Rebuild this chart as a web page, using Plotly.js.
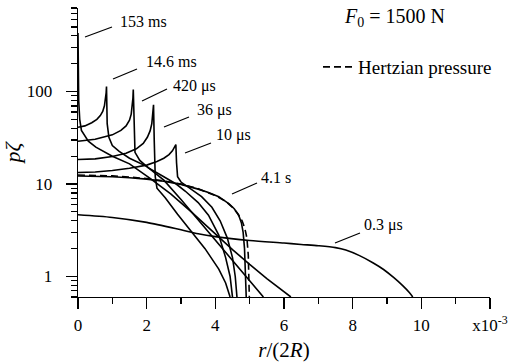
<!DOCTYPE html>
<html><head><meta charset="utf-8">
<script src="https://cdn.plot.ly/plotly-3.0.1.min.js"></script>
<style>html,body{margin:0;padding:0;background:#fff}#chart{width:511px;height:363px}</style>
</head><body><div id="chart"></div>
<script>
// r/(2R) in units of 1e-3, p_zeta dimensionless
const r_03us = [0, 1, 2, 3, 3.5, 4, 5, 6, 6.5, 7, 7.5, 7.8, 8.2, 8.6, 8.9, 9.2, 9.45, 9.65, 9.75];
const p_03us = [4.65, 4.35, 3.85, 3.2, 2.9, 2.7, 2.45, 2.3, 2.22, 2.15, 2.05, 1.93, 1.68, 1.4, 1.19, 0.97, 0.8, 0.67, 0.6];

const r_10us = [0, 0.5, 1, 1.5, 2, 2.3, 2.5, 2.65, 2.75, 2.81, 2.85, 2.87, 2.9, 3.0, 3.3, 3.6, 3.9, 4.14, 4.35, 4.5, 4.58, 4.63];
const p_10us = [13.3, 13.5, 14.0, 14.8, 16.0, 17.5, 19.0, 20.8, 22.8, 24.8, 26.7, 17, 12, 10.5, 8.8, 7.3, 5.6, 4.0, 2.6, 1.6, 1.0, 0.6];

const r_36us = [0, 0.5, 1, 1.4, 1.7, 1.9, 2.02, 2.1, 2.15, 2.18, 2.2, 2.22, 2.25, 2.3, 2.54, 2.9, 3.3, 3.7, 4.1, 4.3, 4.43];
const p_36us = [18.4, 18.7, 19.8, 21.5, 24, 27.5, 32, 37.5, 45, 55, 72, 30, 12, 9, 7.1, 4.7, 3.06, 2.0, 1.2, 0.85, 0.6];

const r_420us = [0, 0.5, 1, 1.25, 1.4, 1.5, 1.55, 1.58, 1.6, 1.61, 1.63, 1.66, 1.8, 2.04, 2.5, 2.86, 3.12, 3.5, 3.8, 4.1, 4.3, 4.43, 4.5];
const p_420us = [29, 30.5, 34, 38, 42.5, 49, 57, 68, 85, 105, 40, 22, 18, 15, 12, 10, 8.4, 6.3, 4.6, 2.8, 1.6, 1.0, 0.6];

const r_146ms = [0, 0.2, 0.4, 0.55, 0.65, 0.72, 0.77, 0.8, 0.82, 0.83, 0.835, 0.85, 0.9, 1.0, 1.2, 1.5, 2.0, 2.5, 3.0, 3.5, 4.0, 4.5, 5.0, 5.4];
const p_146ms = [41, 42.5, 46, 50, 55, 61, 70, 82, 97, 113, 70, 45, 32, 26, 22.5, 19, 15.5, 11, 6.8, 4.1, 2.5, 1.5, 0.9, 0.6];

const r_153ms = [0, 0.005, 0.02, 0.05, 0.1, 0.3, 0.52, 1.0, 1.5, 2.1, 2.7, 3.3, 3.9, 4.5, 5.0, 5.5, 6.2];
const p_153ms = [430, 180, 80, 50, 38, 29, 25, 20, 16.5, 11.5, 7.8, 5.0, 3.1, 1.95, 1.35, 0.95, 0.6];

const r_41s = [0, 0.5, 1, 1.5, 2, 2.5, 3, 3.5, 3.8, 4.1, 4.4, 4.55, 4.68, 4.76, 4.81, 4.85, 4.88, 4.9];
const p_41s = [12.2, 12.15, 12.0, 11.7, 11.3, 10.7, 9.9, 8.8, 8.1, 7.3, 6.1, 5.4, 4.6, 3.8, 3.0, 2.0, 1.1, 0.6];

const r_hertz = [0, 0.5, 1, 1.5, 2, 2.5, 3, 3.5, 4, 4.3, 4.5, 4.65, 4.78, 4.86, 4.92, 4.96, 4.98, 4.99];
const p_hertz = [12.5, 12.45, 12.25, 11.9, 11.45, 10.8, 10.0, 8.9, 7.5, 6.5, 5.6, 4.8, 4.0, 3.3, 2.6, 1.7, 1.0, 0.6];

const xTickVals = [0, 2, 4, 6, 8, 10, 12];
const xTickText = ['0', '2', '4', '6', '8', '10', 'x10<sup>-3</sup>'];
const yTickVals = [1, 10, 100];
const yTickText = ['1', '10', '100'];
const yMinorVals = [0.6, 0.7, 0.8, 0.9, 2, 3, 4, 5, 6, 7, 8, 9, 20, 30, 40, 50, 60, 70, 80, 90, 200, 300, 400, 500, 600, 700, 800];

const curveLabels = ['153 ms', '14.6 ms', '420 μs', '36 μs', '10 μs', '4.1 s', '0.3 μs'];

const solid = [
  [r_03us, p_03us], [r_10us, p_10us], [r_36us, p_36us], [r_420us, p_420us],
  [r_146ms, p_146ms], [r_153ms, p_153ms], [r_41s, p_41s]
];
const solidNames = ['0.3 μs', '10 μs', '36 μs', '420 μs', '14.6 ms', '153 ms', '4.1 s'];

const traces = solid.map((d, i) => ({
  x: d[0], y: d[1], type: 'scatter', mode: 'lines', name: solidNames[i],
  showlegend: false,
  line: i === 0 ? {color: '#000', width: 1.6, shape: 'spline', smoothing: 0.8}
                : {color: '#000', width: 1.6}
}));
traces.push({
  x: r_hertz, y: p_hertz, type: 'scatter', mode: 'lines', name: 'Hertzian pressure',
  showlegend: true, line: {color: '#000', width: 1.6, dash: '7px,4px'}
});

const FONT = 'Liberation Serif, Times New Roman, serif';

// plot area geometry (px) used to place labels
const L = 78, T = 8, W = 412, H = 289;
const px = v => (v - L) / W;
const py = v => (T + H - v) / H;

// label text centres and leader lines (pixel positions in the figure)
const labelPos = [
  [143, 22, 85, 37, 112, 27],
  [171, 62, 113, 79, 137, 69],
  [194, 86, 142, 101, 167, 89],
  [214, 110, 164, 127, 189, 117],
  [233, 135, 185, 153, 211, 143],
  [276, 177, 232, 194, 257, 183],
  [383, 225, 335, 243, 360, 233]
];

const annotations = curveLabels.map((t, i) => ({
  text: t, xref: 'paper', yref: 'paper', x: px(labelPos[i][0]), y: py(labelPos[i][1]),
  xanchor: 'center', yanchor: 'middle', showarrow: false, font: {family: FONT, size: 16}
}));
annotations.push({
  text: '<i>F</i><sub>0</sub> = 1500 N', xref: 'paper', yref: 'paper',
  x: px(394), y: py(18), xanchor: 'center', yanchor: 'middle', showarrow: false,
  font: {family: FONT, size: 20}
});

const shapes = labelPos.map(p => ({
  type: 'line', xref: 'paper', yref: 'paper',
  x0: px(p[2]), y0: py(p[3]), x1: px(p[4]), y1: py(p[5]),
  line: {color: '#000', width: 1.2}
}));

const layout = {
  width: 511, height: 363,
  margin: {l: L, r: 511 - L - W, t: T, b: 363 - T - H, pad: 0},
  paper_bgcolor: '#fff', plot_bgcolor: '#fff',
  font: {family: FONT, size: 16, color: '#000'},
  showlegend: true,
  legend: {x: px(318), y: py(67), xanchor: 'left', yanchor: 'middle',
           bgcolor: 'rgba(0,0,0,0)', font: {family: FONT, size: 19}, borderwidth: 0},
  xaxis: {
    range: [0, 12], tickmode: 'array', tickvals: xTickVals, ticktext: xTickText,
    ticks: 'outside', ticklen: 11, tickwidth: 1.3, tickcolor: '#000',
    showline: true, linewidth: 1.3, linecolor: '#000', showgrid: false, zeroline: false,
    minor: {tickmode: 'linear', tick0: 0, dtick: 1, ticks: 'outside', ticklen: 6, tickwidth: 1.3, tickcolor: '#000', showgrid: false},
    tickfont: {family: FONT, size: 17}, ticklabelstandoff: 1,
    title: {text: '<i>r</i>/(2<i>R</i>)', font: {family: FONT, size: 21}, standoff: 8}
  },
  yaxis: {
    type: 'log', range: [Math.log10(0.6), Math.log10(800)],
    tickmode: 'array', tickvals: yTickVals, ticktext: yTickText,
    ticks: 'outside', ticklen: 11, tickwidth: 1.3, tickcolor: '#000',
    showline: true, linewidth: 1.3, linecolor: '#000', showgrid: false, zeroline: false,
    minor: {tickmode: 'array', tickvals: yMinorVals, ticks: 'outside', ticklen: 6, tickwidth: 1.3, tickcolor: '#000', showgrid: false},
    tickfont: {family: FONT, size: 17}, ticklabelstandoff: 10,
    title: {text: '<i>pζ</i>', font: {family: FONT, size: 22}, standoff: 4}
  },
  annotations: annotations,
  shapes: shapes
};

Plotly.newPlot('chart', traces, layout, {staticPlot: true, displayModeBar: false});
</script>
</body></html>
